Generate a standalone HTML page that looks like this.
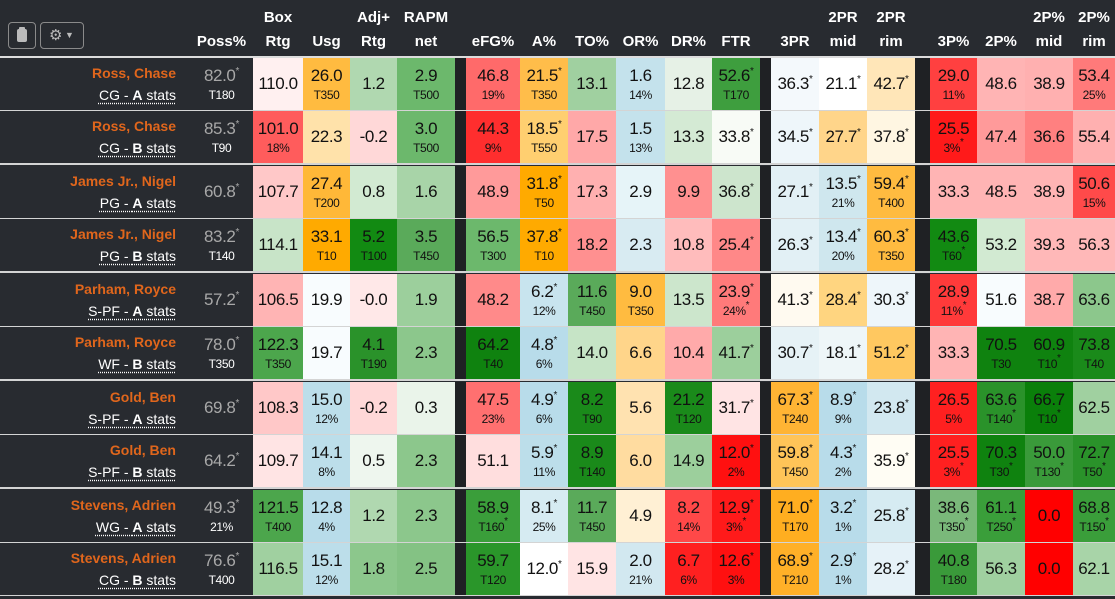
<!DOCTYPE html>
<html><head><meta charset="utf-8"><style>
body{margin:0;background:#282b30;width:1115px;height:599px;overflow:hidden;font-family:"Liberation Sans",sans-serif}
table{border-collapse:collapse;table-layout:fixed;width:1115px;position:absolute;left:0;top:0}
td{padding:0;height:52px;text-align:center;vertical-align:middle;color:#111;font-size:17px;letter-spacing:-0.4px;overflow:hidden;white-space:nowrap}
tr.h td{height:54px;color:#fff;font-weight:bold;font-size:15px;vertical-align:bottom;padding-bottom:2px;line-height:24px;letter-spacing:0}
tr.l2 td{height:2px;background:#dcdcdc;font-size:0;line-height:0}
tr.l1 td{height:1px;background:#d4d4d4;font-size:0;line-height:0}
tr.s3 td{height:1px;background:#d4d4d4;border-top:1px solid #d4d4d4;border-bottom:1px solid #282b30;font-size:0;line-height:0}
td.g{background:#1f2124}
td b{display:block;font-weight:normal;line-height:21px}
td i{display:block;font-style:normal;font-size:12px;line-height:18px}
sup{font-size:10px;line-height:0;vertical-align:7px}
td.n{text-align:right;padding-right:14px;letter-spacing:0}
td.n b{color:#e0661c;font-weight:bold;font-size:14px;line-height:22px}
td.n i{color:#fff;font-size:14px;line-height:22px;text-decoration:underline dotted;text-underline-offset:3px}
td.n i em{font-style:normal;font-weight:bold}
td.p{color:#a8a8a8}
td.p i{color:#fff}
.btn{position:absolute;top:22px;height:27px;border:1px solid #8a8a8a;border-radius:4px;box-sizing:border-box}
</style></head><body>
<div class="btn" style="left:8px;width:28px"><div style="position:absolute;left:8px;top:6px;width:10px;height:13px;background:#bbb;border-radius:2px"></div><div style="position:absolute;left:10px;top:4px;width:6px;height:4px;background:#bbb;border-radius:1px"></div></div>
<div class="btn" style="left:40px;width:44px;color:#bbb;font-size:15px;line-height:25px;padding-left:8px">⚙<span style="font-size:9px;vertical-align:2px"> ▼</span></div>
<table>
<colgroup><col style="width:190px"><col style="width:63px"><col style="width:50px"><col style="width:47px"><col style="width:47px"><col style="width:58px"><col style="width:11px"><col style="width:54px"><col style="width:48px"><col style="width:48px"><col style="width:49px"><col style="width:47px"><col style="width:48px"><col style="width:11px"><col style="width:48px"><col style="width:48px"><col style="width:48px"><col style="width:15px"><col style="width:47px"><col style="width:48px"><col style="width:48px"><col style="width:42px"></colgroup>
<tr class="h"><td></td><td>Poss%</td><td>Box<br>Rtg</td><td>Usg</td><td>Adj+<br>Rtg</td><td>RAPM<br>net</td><td></td><td>eFG%</td><td>A%</td><td>TO%</td><td>OR%</td><td>DR%</td><td>FTR</td><td></td><td>3PR</td><td>2PR<br>mid</td><td>2PR<br>rim</td><td></td><td>3P%</td><td>2P%</td><td>2P%<br>mid</td><td>2P%<br>rim</td></tr>
<tr class="l2"><td colspan="22"></td></tr>

<tr><td class="n"><b>Ross, Chase</b><i>CG - <em>A</em> stats</i></td><td class="p"><b>82.0<sup>*</sup></b><i>T180</i></td>
<td style="background:#fff0f0">110.0</td><td style="background:#ffbb40"><b>26.0</b><i>T350</i></td><td style="background:#b0d8b0">1.2</td><td style="background:#6cb86c"><b>2.9</b><i>T500</i></td><td class="g"></td>
<td style="background:#ff6a6a"><b>46.8</b><i>19%</i></td><td style="background:#ffbd4a"><b>21.5<sup>*</sup></b><i>T350</i></td><td style="background:#a0d0a0">13.1</td><td style="background:#c4e2ec"><b>1.6</b><i>14%</i></td><td style="background:#e6f1e6">12.8</td><td style="background:#3e9e3e"><b>52.6<sup>*</sup></b><i>T170</i></td><td class="g"></td>
<td style="background:#f4f9fc">36.3<sup>*</sup></td><td style="background:#fff">21.1<sup>*</sup></td><td style="background:#ffe6b8">42.7<sup>*</sup></td><td class="g"></td>
<td style="background:#ff4040"><b>29.0</b><i>11%</i></td><td style="background:#ffb4b4">48.6</td><td style="background:#ffb0b0">38.9</td><td style="background:#ff7a7a"><b>53.4</b><i>25%</i></td></tr>
<tr class="l1"><td colspan="22"></td></tr>
<tr><td class="n"><b>Ross, Chase</b><i>CG - <em>B</em> stats</i></td><td class="p"><b>85.3<sup>*</sup></b><i>T90</i></td>
<td style="background:#ff5c5c"><b>101.0</b><i>18%</i></td><td style="background:#ffe2aa">22.3</td><td style="background:#ffd8d8">-0.2</td><td style="background:#6cb86c"><b>3.0</b><i>T500</i></td><td class="g"></td>
<td style="background:#ff2e2e"><b>44.3</b><i>9%</i></td><td style="background:#ffcf70"><b>18.5<sup>*</sup></b><i>T550</i></td><td style="background:#ffa8a8">17.5</td><td style="background:#c4e2ec"><b>1.5</b><i>13%</i></td><td style="background:#d4ead4">13.3</td><td style="background:#f8fbf6">33.8<sup>*</sup></td><td class="g"></td>
<td style="background:#eef6fa">34.5<sup>*</sup></td><td style="background:#ffd58a">27.7<sup>*</sup></td><td style="background:#fff6e2">37.8<sup>*</sup></td><td class="g"></td>
<td style="background:#ff1a1a"><b>25.5</b><i>3%<sup>*</sup></i></td><td style="background:#ff9a9a">47.4</td><td style="background:#ff8080">36.6</td><td style="background:#ffb0b0">55.4</td></tr>
<tr class="s3"><td colspan="22"></td></tr>

<tr><td class="n"><b>James Jr., Nigel</b><i>PG - <em>A</em> stats</i></td><td class="p">60.8<sup>*</sup></td>
<td style="background:#ffc8c8">107.7</td><td style="background:#ffb838"><b>27.4</b><i>T200</i></td><td style="background:#d2ead2">0.8</td><td style="background:#a8d4a8">1.6</td><td class="g"></td>
<td style="background:#ff9a9a">48.9</td><td style="background:#ffaa00"><b>31.8<sup>*</sup></b><i>T50</i></td><td style="background:#ffb0b0">17.3</td><td style="background:#e6f4f8">2.9</td><td style="background:#ff9090">9.9</td><td style="background:#cde5cd">36.8<sup>*</sup></td><td class="g"></td>
<td style="background:#e2f0f5">27.1<sup>*</sup></td><td style="background:#cfe7ee"><b>13.5<sup>*</sup></b><i>21%</i></td><td style="background:#ffbb40"><b>59.4<sup>*</sup></b><i>T400</i></td><td class="g"></td>
<td style="background:#ffb4b4">33.3</td><td style="background:#ffb4b4">48.5</td><td style="background:#ffb4b4">38.9</td><td style="background:#ff4a4a"><b>50.6</b><i>15%</i></td></tr>
<tr class="l1"><td colspan="22"></td></tr>
<tr><td class="n"><b>James Jr., Nigel</b><i>PG - <em>B</em> stats</i></td><td class="p"><b>83.2<sup>*</sup></b><i>T140</i></td>
<td style="background:#c8e4c8">114.1</td><td style="background:#ffaa00"><b>33.1</b><i>T10</i></td><td style="background:#128a12"><b>5.2</b><i>T100</i></td><td style="background:#5aaa5a"><b>3.5</b><i>T450</i></td><td class="g"></td>
<td style="background:#6cb86c"><b>56.5</b><i>T300</i></td><td style="background:#ffaa00"><b>37.8<sup>*</sup></b><i>T10</i></td><td style="background:#ff9090">18.2</td><td style="background:#d8ebf2">2.3</td><td style="background:#ffbcbc">10.8</td><td style="background:#ff8888">25.4<sup>*</sup></td><td class="g"></td>
<td style="background:#e2f0f5">26.3<sup>*</sup></td><td style="background:#cfe7ee"><b>13.4<sup>*</sup></b><i>20%</i></td><td style="background:#ffbb40"><b>60.3<sup>*</sup></b><i>T350</i></td><td class="g"></td>
<td style="background:#128a12"><b>43.6</b><i>T60<sup>*</sup></i></td><td style="background:#d2ead2">53.2</td><td style="background:#ffb8b8">39.3</td><td style="background:#ffb8b8">56.3</td></tr>
<tr class="s3"><td colspan="22"></td></tr>

<tr><td class="n"><b>Parham, Royce</b><i>S-PF - <em>A</em> stats</i></td><td class="p">57.2<sup>*</sup></td>
<td style="background:#ffb4b4">106.5</td><td style="background:#f8fcfe">19.9</td><td style="background:#ffe8e8">-0.0</td><td style="background:#9ccf9c">1.9</td><td class="g"></td>
<td style="background:#ff8a8a">48.2</td><td style="background:#c8e4ee"><b>6.2<sup>*</sup></b><i>12%</i></td><td style="background:#5aaa5a"><b>11.6</b><i>T450</i></td><td style="background:#ffbb40"><b>9.0</b><i>T350</i></td><td style="background:#cce6cc">13.5</td><td style="background:#ff7a7a"><b>23.9<sup>*</sup></b><i>24%<sup>*</sup></i></td><td class="g"></td>
<td style="background:#fffaf0">41.3<sup>*</sup></td><td style="background:#ffd580">28.4<sup>*</sup></td><td style="background:#eef6fa">30.3<sup>*</sup></td><td class="g"></td>
<td style="background:#ff3a3a"><b>28.9</b><i>11%<sup>*</sup></i></td><td style="background:#f8fcfe">51.6</td><td style="background:#ffaaaa">38.7</td><td style="background:#8cc78c">63.6</td></tr>
<tr class="l1"><td colspan="22"></td></tr>
<tr><td class="n"><b>Parham, Royce</b><i>WF - <em>B</em> stats</i></td><td class="p"><b>78.0<sup>*</sup></b><i>T350</i></td>
<td style="background:#4ca64c"><b>122.3</b><i>T350</i></td><td style="background:#f8fcfe">19.7</td><td style="background:#2a922a"><b>4.1</b><i>T190</i></td><td style="background:#8cc78c">2.3</td><td class="g"></td>
<td style="background:#0f820f"><b>64.2</b><i>T40</i></td><td style="background:#b8dcea"><b>4.8<sup>*</sup></b><i>6%</i></td><td style="background:#c6e4c6">14.0</td><td style="background:#ffd58a">6.6</td><td style="background:#ffaaaa">10.4</td><td style="background:#9ccf9c">41.7<sup>*</sup></td><td class="g"></td>
<td style="background:#e6f2f6">30.7<sup>*</sup></td><td style="background:#eef6f8">18.1<sup>*</sup></td><td style="background:#ffc860">51.2<sup>*</sup></td><td class="g"></td>
<td style="background:#ffb4b4">33.3</td><td style="background:#0f820f"><b>70.5</b><i>T30</i></td><td style="background:#0f820f"><b>60.9</b><i>T10<sup>*</sup></i></td><td style="background:#1a8a1a"><b>73.8</b><i>T40</i></td></tr>
<tr class="s3"><td colspan="22"></td></tr>

<tr><td class="n"><b>Gold, Ben</b><i>S-PF - <em>A</em> stats</i></td><td class="p">69.8<sup>*</sup></td>
<td style="background:#ffc8c8">108.3</td><td style="background:#bcdeea"><b>15.0</b><i>12%</i></td><td style="background:#ffd8d8">-0.2</td><td style="background:#eaf4ea">0.3</td><td class="g"></td>
<td style="background:#ff7070"><b>47.5</b><i>23%</i></td><td style="background:#b8dcea"><b>4.9<sup>*</sup></b><i>6%</i></td><td style="background:#1a8a1a"><b>8.2</b><i>T90</i></td><td style="background:#ffe2b0">5.6</td><td style="background:#1a8a1a"><b>21.2</b><i>T120</i></td><td style="background:#ffe4e4">31.7<sup>*</sup></td><td class="g"></td>
<td style="background:#ffb434"><b>67.3<sup>*</sup></b><i>T240</i></td><td style="background:#b8dcea"><b>8.9<sup>*</sup></b><i>9%</i></td><td style="background:#d2e8f0">23.8<sup>*</sup></td><td class="g"></td>
<td style="background:#ff2020"><b>26.5</b><i>5%</i></td><td style="background:#2a922a"><b>63.6</b><i>T140<sup>*</sup></i></td><td style="background:#0a7f0a"><b>66.7</b><i>T10<sup>*</sup></i></td><td style="background:#a0d0a0">62.5</td></tr>
<tr class="l1"><td colspan="22"></td></tr>
<tr><td class="n"><b>Gold, Ben</b><i>S-PF - <em>B</em> stats</i></td><td class="p">64.2<sup>*</sup></td>
<td style="background:#ffe4e4">109.7</td><td style="background:#bcdeea"><b>14.1</b><i>8%</i></td><td style="background:#eef6ee">0.5</td><td style="background:#8cc78c">2.3</td><td class="g"></td>
<td style="background:#ffdede">51.1</td><td style="background:#bcdeea"><b>5.9<sup>*</sup></b><i>11%</i></td><td style="background:#1a8a1a"><b>8.9</b><i>T140</i></td><td style="background:#ffdca0">6.0</td><td style="background:#9ccf9c">14.9</td><td style="background:#ff1010"><b>12.0<sup>*</sup></b><i>2%</i></td><td class="g"></td>
<td style="background:#ffc458"><b>59.8<sup>*</sup></b><i>T450</i></td><td style="background:#b8dcea"><b>4.3<sup>*</sup></b><i>2%</i></td><td style="background:#fffdf4">35.9<sup>*</sup></td><td class="g"></td>
<td style="background:#ff2020"><b>25.5</b><i>3%<sup>*</sup></i></td><td style="background:#0f820f"><b>70.3</b><i>T30<sup>*</sup></i></td><td style="background:#3a9a3a"><b>50.0</b><i>T130<sup>*</sup></i></td><td style="background:#2a922a"><b>72.7</b><i>T50<sup>*</sup></i></td></tr>
<tr class="s3"><td colspan="22"></td></tr>

<tr><td class="n"><b>Stevens, Adrien</b><i>WG - <em>A</em> stats</i></td><td class="p"><b>49.3<sup>*</sup></b><i>21%</i></td>
<td style="background:#4ca64c"><b>121.5</b><i>T400</i></td><td style="background:#b8dcea"><b>12.8</b><i>4%</i></td><td style="background:#b0d8b0">1.2</td><td style="background:#8cc78c">2.3</td><td class="g"></td>
<td style="background:#3a9e3a"><b>58.9</b><i>T160<sup>*</sup></i></td><td style="background:#d6ebf2"><b>8.1<sup>*</sup></b><i>25%</i></td><td style="background:#5aaa5a"><b>11.7</b><i>T450</i></td><td style="background:#fff0d4">4.9</td><td style="background:#ff4848"><b>8.2</b><i>14%</i></td><td style="background:#ff1a1a"><b>12.9<sup>*</sup></b><i>3%<sup>*</sup></i></td><td class="g"></td>
<td style="background:#ffae20"><b>71.0<sup>*</sup></b><i>T170</i></td><td style="background:#b8dcea"><b>3.2<sup>*</sup></b><i>1%</i></td><td style="background:#d6ebf2">25.8<sup>*</sup></td><td class="g"></td>
<td style="background:#7ab87a"><b>38.6</b><i>T350<sup>*</sup></i></td><td style="background:#3a9e3a"><b>61.1</b><i>T250<sup>*</sup></i></td><td style="background:#ff0000">0.0</td><td style="background:#3a9e3a"><b>68.8</b><i>T150<sup>*</sup></i></td></tr>
<tr class="l1"><td colspan="22"></td></tr>
<tr><td class="n"><b>Stevens, Adrien</b><i>CG - <em>B</em> stats</i></td><td class="p"><b>76.6<sup>*</sup></b><i>T400</i></td>
<td style="background:#a0d0a0">116.5</td><td style="background:#bcdeea"><b>15.1</b><i>12%</i></td><td style="background:#8cc78c">1.8</td><td style="background:#84c284">2.5</td><td class="g"></td>
<td style="background:#2a962a"><b>59.7</b><i>T120</i></td><td style="background:#fff">12.0<sup>*</sup></td><td style="background:#ffe4e4">15.9</td><td style="background:#d2e8f0"><b>2.0</b><i>21%</i></td><td style="background:#ff2020"><b>6.7</b><i>6%</i></td><td style="background:#ff1010"><b>12.6<sup>*</sup></b><i>3%</i></td><td class="g"></td>
<td style="background:#ffb028"><b>68.9<sup>*</sup></b><i>T210</i></td><td style="background:#b8dcea"><b>2.9<sup>*</sup></b><i>1%</i></td><td style="background:#e6f2f8">28.2<sup>*</sup></td><td class="g"></td>
<td style="background:#3a9a3a"><b>40.8</b><i>T180</i></td><td style="background:#a0d0a0">56.3</td><td style="background:#ff0000">0.0</td><td style="background:#a8d4a8">62.1</td></tr>
<tr class="l1"><td colspan="22"></td></tr>
</table>
</body></html>
